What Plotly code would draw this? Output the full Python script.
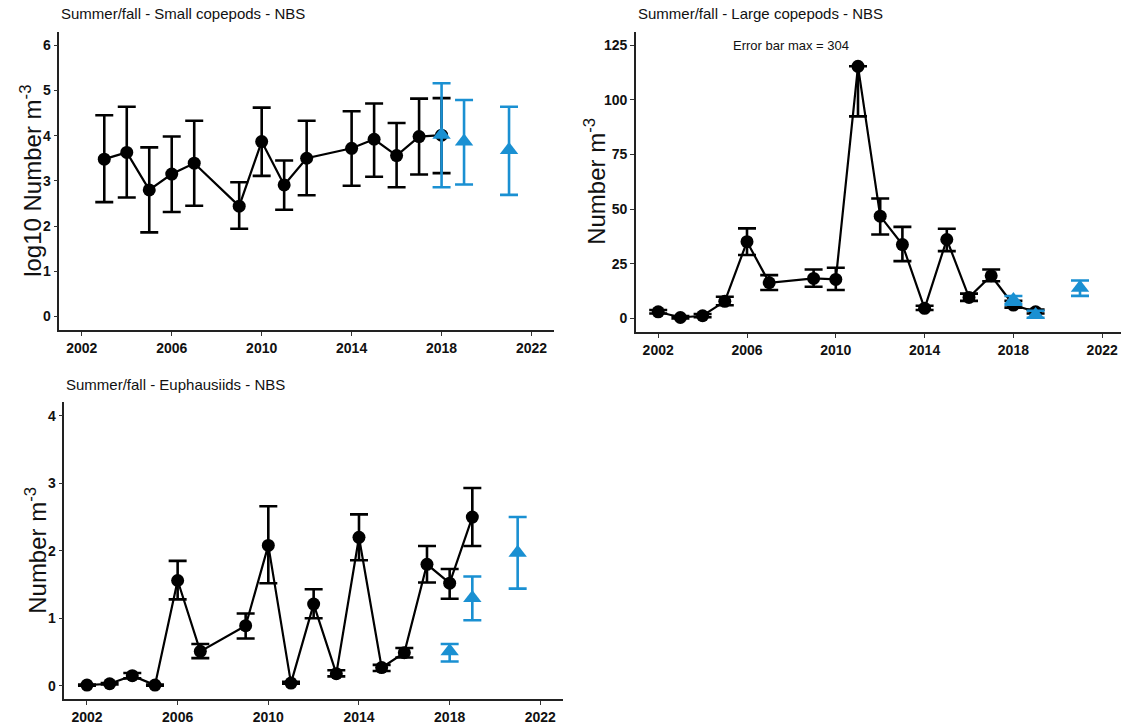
import plotly.graph_objects as go

# ---- Small copepods, NBS (log10 number m^-3) ----
sc_years = [2003, 2004, 2005, 2006, 2007, 2009, 2010, 2011, 2012, 2014, 2015, 2016, 2017, 2018]
sc_mean = [3.48, 3.63, 2.80, 3.15, 3.39, 2.44, 3.87, 2.91, 3.50, 3.72, 3.92, 3.56, 3.98, 4.01]
sc_upper = [4.45, 4.64, 3.74, 3.98, 4.33, 2.97, 4.62, 3.45, 4.33, 4.54, 4.71, 4.28, 4.82, 4.83]
sc_lower = [2.53, 2.63, 1.86, 2.31, 2.45, 1.94, 3.11, 2.36, 2.68, 2.89, 3.09, 2.86, 3.14, 3.17]

sc_new_years = [2018, 2019, 2021]
sc_new_mean = [4.02, 3.87, 3.68]
sc_new_upper = [5.16, 4.79, 4.64]
sc_new_lower = [2.86, 2.92, 2.69]

# ---- Large copepods, NBS (number m^-3) ----
lc_years = [2002, 2003, 2004, 2005, 2006, 2007, 2009, 2010, 2011, 2012, 2013, 2014, 2015, 2016, 2017, 2018, 2019]
lc_mean = [3.0, 0.4, 1.2, 7.8, 35.1, 16.3, 18.3, 17.8, 115.4, 46.8, 33.8, 4.6, 36.1, 9.6, 19.5, 6.1, 3.0]
lc_upper = [3.8, 1.0, 2.0, 9.9, 41.2, 19.8, 22.4, 23.2, 304.0, 54.9, 41.9, 5.8, 41.0, 11.3, 22.4, 8.0, 4.0]
lc_lower = [2.2, 0.0, 0.5, 6.0, 29.0, 13.0, 14.5, 13.0, 92.5, 38.4, 26.2, 3.8, 30.8, 8.0, 17.0, 4.9, 2.2]

lc_new_years = [2018, 2019, 2021]
lc_new_mean = [8.4, 1.5, 14.0]
lc_new_upper = [10.2, 3.5, 17.3]
lc_new_lower = [6.2, 0.3, 10.3]

# ---- Euphausiids, NBS (number m^-3) ----
eu_years = [2002, 2003, 2004, 2005, 2006, 2007, 2009, 2010, 2011, 2012, 2013, 2014, 2015, 2016, 2017, 2018, 2019]
eu_mean = [0.01, 0.03, 0.15, 0.01, 1.56, 0.51, 0.89, 2.08, 0.04, 1.21, 0.18, 2.20, 0.27, 0.49, 1.80, 1.52, 2.50]
eu_upper = [0.02, 0.04, 0.19, 0.02, 1.85, 0.62, 1.07, 2.66, 0.06, 1.43, 0.23, 2.54, 0.31, 0.56, 2.07, 1.73, 2.93]
eu_lower = [0.00, 0.02, 0.11, 0.00, 1.28, 0.41, 0.70, 1.52, 0.03, 1.00, 0.14, 1.86, 0.22, 0.42, 1.53, 1.29, 2.07]

eu_new_years = [2018, 2019, 2021]
eu_new_mean = [0.51, 1.30, 1.97]
eu_new_upper = [0.62, 1.62, 2.50]
eu_new_lower = [0.36, 0.97, 1.44]

x_ticks = [2002, 2006, 2010, 2014, 2018, 2022]

BLACK = "#000000"
BLUE = "#1a90d2"
TEXT = "#111111"
FONT = "Liberation Sans, Arial, sans-serif"
W, H = 1121, 725

# y-axis limits per panel (values beyond the limit are dropped, as with scale limits)
SC_YLIM = [-0.3, 6.3]
LC_YLIM = [-6.25, 131.25]
EU_YLIM = [-0.2, 4.2]


def err_plus(up, mean, ymax):
    return [round(u - m, 4) if u <= ymax else 0 for u, m in zip(up, mean)]


def err_minus(mean, lo):
    return [round(m - l, 4) for m, l in zip(mean, lo)]


fig = go.Figure()


def add_panel(xa, ya, ylim, yrs, mean, up, lo, nyrs, nmean, nup, nlo):
    fig.add_trace(go.Scatter(
        x=yrs, y=mean, xaxis=xa, yaxis=ya, mode="lines+markers",
        line=dict(color=BLACK, width=2.2),
        marker=dict(symbol="circle", size=13, color=BLACK),
        error_y=dict(type="data", symmetric=False, array=err_plus(up, mean, ylim[1]),
                     arrayminus=err_minus(mean, lo), color=BLACK, thickness=2.6, width=9),
        showlegend=False, hoverinfo="x+y"))
    fig.add_trace(go.Scatter(
        x=nyrs, y=nmean, xaxis=xa, yaxis=ya, mode="markers",
        marker=dict(symbol="triangle-up", size=16, color=BLUE),
        error_y=dict(type="data", symmetric=False, array=err_plus(nup, nmean, ylim[1]),
                     arrayminus=err_minus(nmean, nlo), color=BLUE, thickness=2.6, width=9),
        showlegend=False, hoverinfo="x+y"))


add_panel("x", "y", SC_YLIM, sc_years, sc_mean, sc_upper, sc_lower,
          sc_new_years, sc_new_mean, sc_new_upper, sc_new_lower)
add_panel("x2", "y2", LC_YLIM, lc_years, lc_mean, lc_upper, lc_lower,
          lc_new_years, lc_new_mean, lc_new_upper, lc_new_lower)
add_panel("x3", "y3", EU_YLIM, eu_years, eu_mean, eu_upper, eu_lower,
          eu_new_years, eu_new_mean, eu_new_upper, eu_new_lower)


def px_x(a, b):
    return [a / W, b / W]


def px_y(top, bottom):
    return [1 - bottom / H, 1 - top / H]


common_x = dict(
    showline=True, linecolor="#222222", linewidth=1.6, showgrid=False, zeroline=False,
    ticks="outside", ticklen=4, tickwidth=1.2, tickcolor="#333333",
    tickvals=x_ticks, tickfont=dict(family=FONT, size=14, color=TEXT, weight="bold"),
    fixedrange=True,
)
common_y = dict(
    showline=True, linecolor="#222222", linewidth=1.6, showgrid=False, zeroline=False,
    ticks="outside", ticklen=4, tickwidth=1.2, tickcolor="#333333",
    tickfont=dict(family=FONT, size=14, color=TEXT, weight="bold"),
    fixedrange=True,
)

dom1_y = px_y(31.7, 330)
dom2_y = px_y(31.7, 332)
dom3_y = px_y(402.3, 699.3)

fig.update_layout(
    width=W, height=H,
    margin=dict(l=0, r=0, t=0, b=0),
    paper_bgcolor="white", plot_bgcolor="white",
    font=dict(family=FONT, color=TEXT),
    xaxis=dict(common_x, domain=px_x(59.3, 554), range=[2001, 2023], anchor="y"),
    yaxis=dict(common_y, domain=dom1_y, range=SC_YLIM, anchor="x",
               tickvals=[0, 1, 2, 3, 4, 5, 6]),
    xaxis2=dict(common_x, domain=px_x(636, 1121), range=[2001, 2001 + (1121 - 636) / 22.2],
                anchor="y2"),
    yaxis2=dict(common_y, domain=dom2_y, range=LC_YLIM, anchor="x2",
                tickvals=[0, 25, 50, 75, 100, 125]),
    xaxis3=dict(common_x, domain=px_x(64.3, 563), range=[2001, 2023], anchor="y3"),
    yaxis3=dict(common_y, domain=dom3_y, range=EU_YLIM, anchor="x3",
                tickvals=[0, 1, 2, 3, 4]),
)

# panel titles
titles = [
    ("Summer/fall - Small copepods - NBS", 59.3, 14),
    ("Summer/fall - Large copepods - NBS", 636, 14),
    ("Summer/fall - Euphausiids - NBS", 64.3, 385),
]
for text, xpx, ypx in titles:
    fig.add_annotation(text=text, xref="paper", yref="paper", x=xpx / W, y=1 - ypx / H,
                       xanchor="left", yanchor="middle", showarrow=False,
                       font=dict(family=FONT, size=15, color=TEXT))

# y-axis titles
ytitles = [
    ("log10 Number m<sup>-3</sup>", 31, dom1_y),
    ("Number m<sup>-3</sup>", 595, dom2_y),
    ("Number m<sup>-3</sup>", 36, dom3_y),
]
for text, xpx, dom in ytitles:
    fig.add_annotation(text=text, xref="paper", yref="paper", x=xpx / W,
                       y=(dom[0] + dom[1]) / 2, xanchor="center", yanchor="middle",
                       textangle=-90, showarrow=False,
                       font=dict(family=FONT, size=24, color=TEXT))

fig.add_annotation(text="Error bar max = 304", xref="x2", yref="y2", x=2008, y=125,
                   xanchor="center", yanchor="middle", showarrow=False,
                   font=dict(family=FONT, size=13, color=TEXT))

fig.write_html("out.html")
